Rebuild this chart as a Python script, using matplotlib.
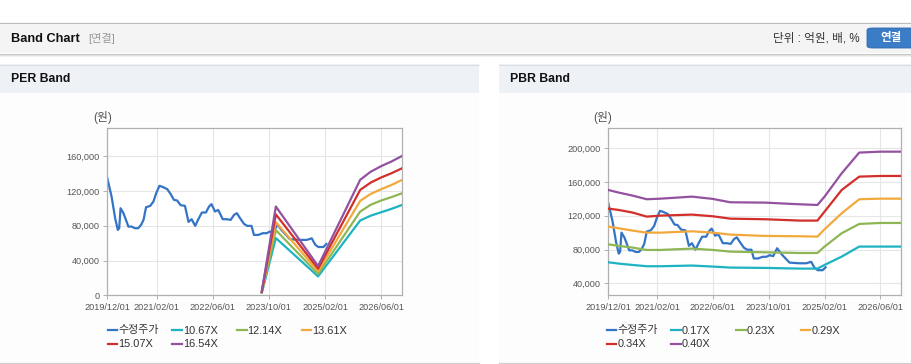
import matplotlib
matplotlib.use("Agg")
import matplotlib.pyplot as plt
import matplotlib.dates as mdates
from matplotlib.patches import Rectangle, FancyBboxPatch
from matplotlib.lines import Line2D
from matplotlib.ticker import FuncFormatter, FixedLocator
import pandas as pd

plt.rcParams['font.family'] = ['Liberation Sans', 'Noto Sans CJK KR', 'DejaVu Sans']

# ---------------- data ----------------
price_dates = [
    "2019-12-01", "2020-01-07", "2020-02-07", "2020-03-01", "2020-03-13", "2020-03-25",
    "2020-04-19", "2020-05-16", "2020-06-01", "2020-06-28", "2020-07-28", "2020-08-25",
    "2020-09-19", "2020-10-10", "2020-11-01", "2020-12-07", "2021-01-04", "2021-01-28",
    "2021-02-25", "2021-03-30", "2021-05-04", "2021-06-01", "2021-07-01", "2021-07-28",
    "2021-08-28", "2021-10-04", "2021-11-04", "2021-12-01", "2022-01-01", "2022-01-28",
    "2022-02-28", "2022-04-04", "2022-05-01", "2022-05-22", "2022-06-22", "2022-07-19",
    "2022-08-28", "2022-10-01", "2022-11-04", "2022-12-04", "2022-12-28", "2023-01-25",
    "2023-02-28", "2023-03-28", "2023-05-04", "2023-05-25", "2023-07-01", "2023-08-10",
    "2023-09-13", "2023-10-10", "2023-11-10", "2023-12-15", "2024-01-20", "2024-04-01",
    "2024-06-28", "2024-08-25", "2024-10-07", "2024-11-07", "2024-12-04", "2025-01-16",
    "2025-02-10",
]
price_values = [
    134700, 113600, 88600, 75200, 77100, 100100,
    94400, 84800, 79000, 79000, 77100, 77100,
    81000, 86700, 101300, 102800, 107800, 117400,
    125900, 124300, 122000, 116600, 109700, 109000,
    103600, 102800, 84400, 87500, 79800, 87500,
    95200, 95200, 102100, 104800, 96300, 98200,
    87500, 87500, 86700, 92500, 94400, 88600,
    82100, 79800, 79800, 69400, 69400, 71400,
    71400, 73300, 72100, 81500, 74800, 64500,
    63700, 63700, 65500, 58000, 55500, 55500,
    59000,
]

per_dates = ["2023-08-01", "2023-12-01", "2024-12-01", "2025-12-01",
             "2026-03-01", "2026-06-01", "2026-09-01", "2026-12-01"]
per_labels = ["10.67X", "12.14X", "13.61X", "15.07X", "16.54X"]
per_1067 = [2900, 65800, 21700, 86000, 91500, 95500, 99500, 104000]
per_1214 = [3300, 74900, 24600, 96300, 104000, 109000, 113000, 117400]
per_1361 = [3700, 84000, 27600, 108600, 116500, 122000, 127000, 132800]
per_1507 = [4100, 93000, 30600, 121200, 129500, 135500, 140500, 146200]
per_1654 = [4500, 102100, 33600, 132800, 142000, 148500, 154000, 160400]

pbr_dates = ["2019-12-01", "2020-03-01", "2020-07-01", "2020-11-01", "2021-03-01",
             "2021-12-01", "2022-06-01", "2022-11-01", "2023-09-01", "2024-07-01",
             "2024-12-01", "2025-02-01", "2025-07-01", "2025-12-01", "2026-06-01",
             "2026-12-01"]
pbr_labels = ["0.17X", "0.23X", "0.29X", "0.34X", "0.40X"]
pbr_017 = [64900, 63300, 61700, 60200, 60200, 61000, 59800, 58600, 58200, 57400,
           57400, 61700, 71600, 83500, 83500, 83500]
pbr_023 = [86200, 84300, 82300, 79500, 79500, 81100, 79500, 77500, 76700, 75900,
           75900, 83500, 99300, 110300, 111500, 111500]
pbr_029 = [107200, 105200, 102400, 100000, 100000, 101600, 100000, 97700, 96100, 95700,
           95300, 104000, 123000, 139600, 140300, 140300]
pbr_034 = [128500, 126900, 123800, 119000, 120200, 121400, 119400, 116600, 115900, 114300,
           114300, 124900, 150600, 166400, 167200, 167200]
pbr_040 = [150600, 147500, 143900, 139600, 140300, 142700, 140000, 136000, 135600, 133600,
           132800, 142700, 170400, 194900, 196000, 196000]

x_ticks = ["2019-12-01", "2021-02-01", "2022-06-01", "2023-10-01", "2025-02-01", "2026-06-01"]
x_range = ["2019-12-01", "2026-12-01"]
per_yticks = [0, 40000, 80000, 120000, 160000]
pbr_yticks = [40000, 80000, 120000, 160000, 200000]
price_label = "수정주가"

colors = {"price": "#3474c6", "c1": "#1db3c2", "c2": "#8fb654", "c3": "#f2a93b",
          "c4": "#d22f2b", "c5": "#93519f"}
band_colors = [colors["c1"], colors["c2"], colors["c3"], colors["c4"], colors["c5"]]

# ---------------- figure ----------------
W, H = 912, 364
fig = plt.figure(figsize=(W / 100, H / 100), dpi=100)
fig.patch.set_facecolor("white")


def fx(x):
    return x / W


def fy(y):
    return 1 - y / H


def rect(x0, y0, x1, y1, color, z=-10):
    fig.add_artist(Rectangle((fx(x0), fy(y1)), (x1 - x0) / W, (y1 - y0) / H,
                             transform=fig.transFigure, facecolor=color,
                             edgecolor="none", zorder=z))


def hline(x0, x1, y, color, lw=1.0, z=-9):
    fig.add_artist(Line2D([fx(x0), fx(x1)], [fy(y), fy(y)], transform=fig.transFigure,
                          color=color, lw=lw * 0.72, zorder=z))


# header band
rect(0, 22, W, 53, "#f4f4f4")
hline(0, W, 22.5, "#bdbdbd")
hline(0, W, 53.5, "#c6c6c6")
hline(0, W, 54.5, "#e2e2e2")
hline(0, W, 55.5, "#f1f1f1")
fig.text(fx(11.5), fy(38.5), "Band Chart", fontsize=9.2, fontweight="bold",
         color="#111111", va="center", ha="left")
fig.text(fx(88), fy(38.5), "[연결]", fontsize=8, color="#999999", va="center", ha="left")
fig.text(fx(860), fy(38.5), "단위 : 억원, 배, %", fontsize=8.4, color="#333333",
         va="center", ha="right")
fig.add_artist(FancyBboxPatch((fx(867), fy(48)), 50 / W, 20 / H,
                              boxstyle="round,pad=0,rounding_size=0.006",
                              transform=fig.transFigure, facecolor="#3a7cc6",
                              edgecolor="#2f69ad", lw=0.6, zorder=-8))
fig.text(fx(891.5), fy(38.3), "연결", fontsize=8.3, fontweight="bold", color="white",
         va="center", ha="center")

# panels
for (x0, x1, title) in [(0, 479, "PER Band"), (499, W, "PBR Band")]:
    rect(x0, 64, x1, 93, "#eef2f7")
    hline(x0, x1, 64.5, "#d9dde2")
    rect(x0, 93, x1, 363, "#fdfdfd")
    hline(x0, x1, 363.3, "#cfcfcf", lw=1.2)
    fig.text(fx(x0 + 11.5), fy(79.5), title, fontsize=8.8, fontweight="bold",
             color="#111111", va="center", ha="left")


def to_dt(lst):
    return pd.to_datetime(lst)


def style_axes(ax, yticks, ylim):
    ax.set_facecolor("white")
    ax.set_xlim(to_dt(x_range))
    ax.set_ylim(*ylim)
    ax.xaxis.set_major_locator(FixedLocator(mdates.date2num(to_dt(x_ticks))))
    ax.xaxis.set_major_formatter(mdates.DateFormatter("%Y/%m/%d"))
    ax.yaxis.set_major_locator(FixedLocator(yticks))
    ax.yaxis.set_major_formatter(FuncFormatter(lambda v, p: f"{int(v):,}"))
    ax.grid(True, color="#e6e6e6", lw=0.8)
    ax.set_axisbelow(True)
    for s in ax.spines.values():
        s.set_color("#b0b0b0")
        s.set_linewidth(0.9)
    ax.tick_params(axis="both", length=3, width=0.7, color="#b0b0b0",
                   labelsize=6.6, labelcolor="#555555", pad=2.5)


def legend(x_left, labels, cols):
    entries = [(price_label, colors["price"])] + list(zip(labels, cols))
    for i, (lab, c) in enumerate(entries):
        r, k = divmod(i, 4)
        x = x_left + k * 64.7
        y = 330 + r * 13.5
        fig.add_artist(Line2D([fx(x), fx(x + 9.5)], [fy(y), fy(y)],
                              transform=fig.transFigure, color=c, lw=1.6))
        fig.text(fx(x + 10.5), fy(y + 0.5), lab, fontsize=7.9, color="#333333",
                 va="center", ha="left")


# PER chart
ax1 = fig.add_axes([fx(107.3), fy(295.3), (402.3 - 107.3) / W, (295.3 - 128.3) / H])
style_axes(ax1, per_yticks, (0, 192000))
ax1.plot(to_dt(price_dates), price_values, color=colors["price"], lw=1.6, zorder=2)
for vals, c in zip([per_1067, per_1214, per_1361, per_1507, per_1654], band_colors):
    ax1.plot(to_dt(per_dates), vals, color=c, lw=1.6, zorder=3)
fig.text(fx(102.5), fy(118), "(원)", fontsize=8.5, color="#555555", va="center", ha="center")
legend(107.7, per_labels, band_colors)

# PBR chart
ax2 = fig.add_axes([fx(608.3), fy(295.0), (901 - 608.3) / W, (295.0 - 128.3) / H])
style_axes(ax2, pbr_yticks, (26100, 223700))
ax2.plot(to_dt(price_dates), price_values, color=colors["price"], lw=1.6, zorder=2)
for vals, c in zip([pbr_017, pbr_023, pbr_029, pbr_034, pbr_040], band_colors):
    ax2.plot(to_dt(pbr_dates), vals, color=c, lw=1.6, zorder=3)
fig.text(fx(602.5), fy(118), "(원)", fontsize=8.5, color="#555555", va="center", ha="center")
legend(606.7, pbr_labels, band_colors)

fig.savefig("out.png", dpi=100, facecolor="white")
